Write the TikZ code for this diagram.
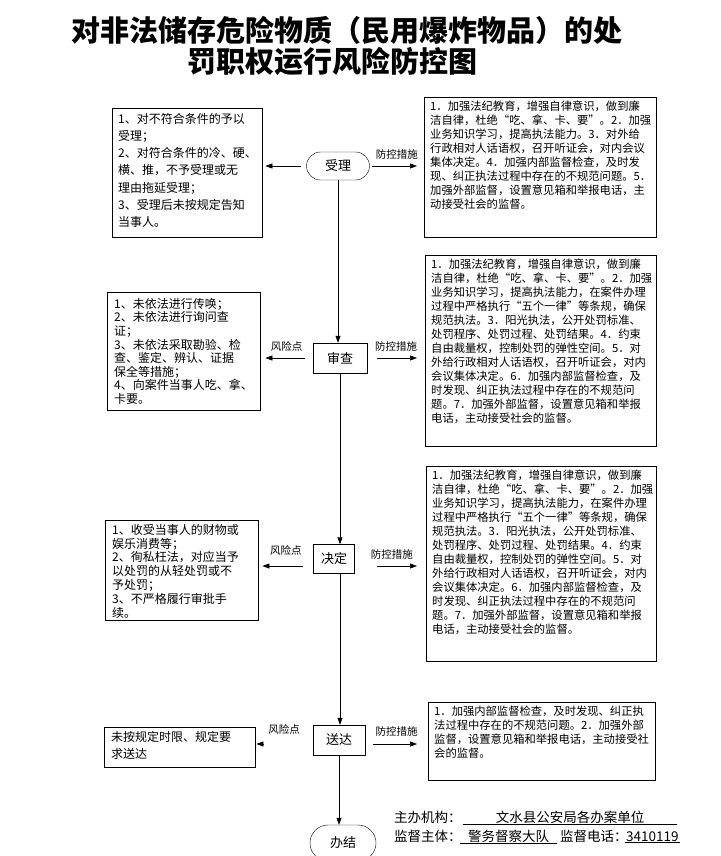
\documentclass[tikz,border=0pt]{standalone}
\usepackage{fontspec}
\setmainfont{Noto Sans CJK SC}
\usetikzlibrary{arrows.meta,positioning,shapes.misc}

\begin{document}
\begin{tikzpicture}[x=1pt,y=-1pt,
  proc/.style={draw,minimum width=54pt,minimum height=30pt,inner sep=2pt,font=\fontsize{13}{15}\selectfont},
  oval/.style={draw,rounded rectangle,minimum width=67pt,minimum height=28pt,inner sep=2pt,font=\fontsize{13}{15}\selectfont},
  risk/.style={draw,anchor=north west,inner xsep=6pt,inner ysep=5pt},
  ctrl/.style={draw,anchor=north west,inner xsep=6pt,inner ysep=4pt,font=\fontsize{11.3}{14}\selectfont},
  lab/.style={font=\fontsize{10.5}{12}\selectfont,inner sep=1pt},
  foot/.style={font=\fontsize{13.5}{16}\selectfont,inner sep=1pt,anchor=base west},
  ar/.style={-{Triangle[length=7pt,width=5pt]},line width=0.6pt}
]
\useasboundingbox (0,0) rectangle (720,856);
\clip (0,0) rectangle (720,856);

% title
\node[font=\fontsize{29}{32}\selectfont\bfseries] (t1) at (347,30) {对非法储存危险物质（民用爆炸物品）的处};
\node[font=\fontsize{29}{32}\selectfont\bfseries] (t2) at (332,61) {罚职权运行风险防控图};

% main flow
\node[oval] (sl) at (338,166) {受理};
\node[proc] (sc) at (340,358) {审查};
\node[proc,minimum width=41pt,minimum height=29pt] (jd) at (334,559) {决定};
\node[proc,minimum width=52pt] (sd) at (339,740) {送达};
\node[oval,minimum width=70pt,minimum height=36pt] (bj) at (343,843) {办结};

% risk points
\node[risk,font=\fontsize{12}{17.2}\selectfont] (r1) at (112,108) {\parbox[c][119pt][t]{138pt}{\raggedright
1、对不符合条件的予以\\
受理；\\
2、对符合条件的冷、硬、\\
横、推，不予受理或无\\
理由拖延受理；\\
3、受理后未按规定告知\\
当事人。}};
\node[risk,inner xsep=7pt,inner ysep=6pt,font=\fontsize{12}{13.6}\selectfont] (r2) at (107,292) {\parbox[c][106pt][t]{139pt}{\raggedright
1、未依法进行传唤；\\
2、未依法进行询问查\\
证；\\
3、未依法采取勘验、检\\
查、鉴定、辨认、证据\\
保全等措施；\\
4、向案件当事人吃、拿、\\
卡要。}};
\node[risk,inner xsep=7pt,inner ysep=4pt,font=\fontsize{12}{13.8}\selectfont] (r3) at (105,520) {\parbox[c][92pt][t]{139pt}{\raggedright
1、收受当事人的财物或\\
娱乐消费等；\\
2、徇私枉法，对应当予\\
以处罚的从轻处罚或不\\
予处罚；\\
3、不严格履行审批手\\
续。}};
\node[risk,inner xsep=7pt,inner ysep=4pt,font=\fontsize{12}{17}\selectfont] (r4) at (104,727) {\parbox[c][32pt][t]{137pt}{\raggedright
未按规定时限、规定要\\
求送达}};

% control measures
\node[ctrl] (c1) at (424,97) {\parbox[c][132pt][t]{220pt}{\raggedright
1．加强法纪教育，增强自律意识，做到廉\\
洁自律，杜绝“吃、拿、卡、要”。2．加强\\
业务知识学习，提高执法能力。3．对外给\\
行政相对人话语权，召开听证会，对内会议\\
集体决定。4．加强内部监督检查，及时发\\
现、纠正执法过程中存在的不规范问题。5．\\
加强外部监督，设置意见箱和举报电话，主\\
动接受社会的监督。}};
\node[ctrl] (c2) at (425,255) {\parbox[c][183pt][t]{219pt}{\raggedright
1．加强法纪教育，增强自律意识，做到廉\\
洁自律，杜绝“吃、拿、卡、要”。2．加强\\
业务知识学习，提高执法能力，在案件办理\\
过程中严格执行“五个一律”等条规，确保\\
规范执法。3．阳光执法，公开处罚标准、\\
处罚程序、处罚过程、处罚结果。4．约束\\
自由裁量权，控制处罚的弹性空间。5．对\\
外给行政相对人话语权，召开听证会，对内\\
会议集体决定。6．加强内部监督检查，及\\
时发现、纠正执法过程中存在的不规范问\\
题。7．加强外部监督，设置意见箱和举报\\
电话，主动接受社会的监督。}};
\node[ctrl] (c3) at (426,466) {\parbox[c][187pt][t]{218pt}{\raggedright
1．加强法纪教育，增强自律意识，做到廉\\
洁自律，杜绝“吃、拿、卡、要”。2．加强\\
业务知识学习，提高执法能力，在案件办理\\
过程中严格执行“五个一律”等条规，确保\\
规范执法。3．阳光执法，公开处罚标准、\\
处罚程序、处罚过程、处罚结果。4．约束\\
自由裁量权，控制处罚的弹性空间。5．对\\
外给行政相对人话语权，召开听证会，对内\\
会议集体决定。6．加强内部监督检查，及\\
时发现、纠正执法过程中存在的不规范问\\
题。7．加强外部监督，设置意见箱和举报\\
电话，主动接受社会的监督。}};
\node[ctrl] (c4) at (428,702) {\parbox[c][70pt][t]{215pt}{\raggedright
1．加强内部监督检查，及时发现、纠正执\\
法过程中存在的不规范问题。2．加强外部\\
监督，设置意见箱和举报电话，主动接受社\\
会的监督。}};

% vertical flow
\draw[ar] (sl.south) -- (sl.south |- sc.north);
\draw[ar] (sc.south) -- (sc.south |- jd.north);
\draw[ar] (sc.south |- jd.south) -- (sc.south |- sd.north);
\draw[ar] (sd.south) -- (sd.south |- bj.north);

% side arrows
\draw[ar,shorten <=5pt,shorten >=3pt] (sl.west) -- (sl.west -| r1.east);
\draw[ar,shorten <=2pt,shorten >=7pt] (sl.east) -- (sl.east -| c1.west)
  node[lab,midway,above=5pt] {防控措施};
\draw[ar,shorten <=8pt,shorten >=5pt] (sc.west) -- (sc.west -| r2.east)
  node[lab,midway,above=5pt] {风险点};
\draw[ar,shorten <=10pt,shorten >=8pt] (sc.east) -- (sc.east -| c2.west)
  node[lab,midway,above=5pt] {防控措施};
\coordinate (jl) at ([yshift=-7pt]jd.west);
\coordinate (jr) at ([yshift=-7pt]jd.east);
\draw[ar,shorten <=10pt,shorten >=4pt] (jl) -- (jl -| r3.east)
  node[lab,midway,above=9pt] {风险点};
\draw[ar,shorten <=22pt,shorten >=9pt] (jr) -- (jr -| c3.west)
  node[lab,pos=0.52,above=5pt] {防控措施};
\coordinate (dl) at ([yshift=-4pt]sd.west);
\coordinate (dr) at ([yshift=-4pt]sd.east);
\draw[ar,shorten <=50pt,shorten >=1pt] (dl) -- (dl -| r4.east)
  node[lab,midway,above=8pt] {风险点};
\draw[ar,shorten <=8pt,shorten >=11pt] (dr) -- (dr -| c4.west)
  node[lab,midway,above=6pt] {防控措施};

% footer
\node[foot] (org) at (393,822) {主办机构：};
\node[foot,minimum width=214pt] (orgv) at (463,822) {文水县公安局各办案单位};
\draw (orgv.south west) -- (orgv.south east);
\node[foot] (sup) at (393,841) {监督主体：};
\node[foot,minimum width=97pt] (supv) at (460,841) {警务督察大队};
\draw (supv.south west) -- (supv.south east);
\node[foot] (tel) at (559,841) {监督电话：};
\node[foot,minimum width=52pt] (telv) at (625,841) {3410119};
\draw (telv.south west) -- (telv.south east);
\end{tikzpicture}
\end{document}
